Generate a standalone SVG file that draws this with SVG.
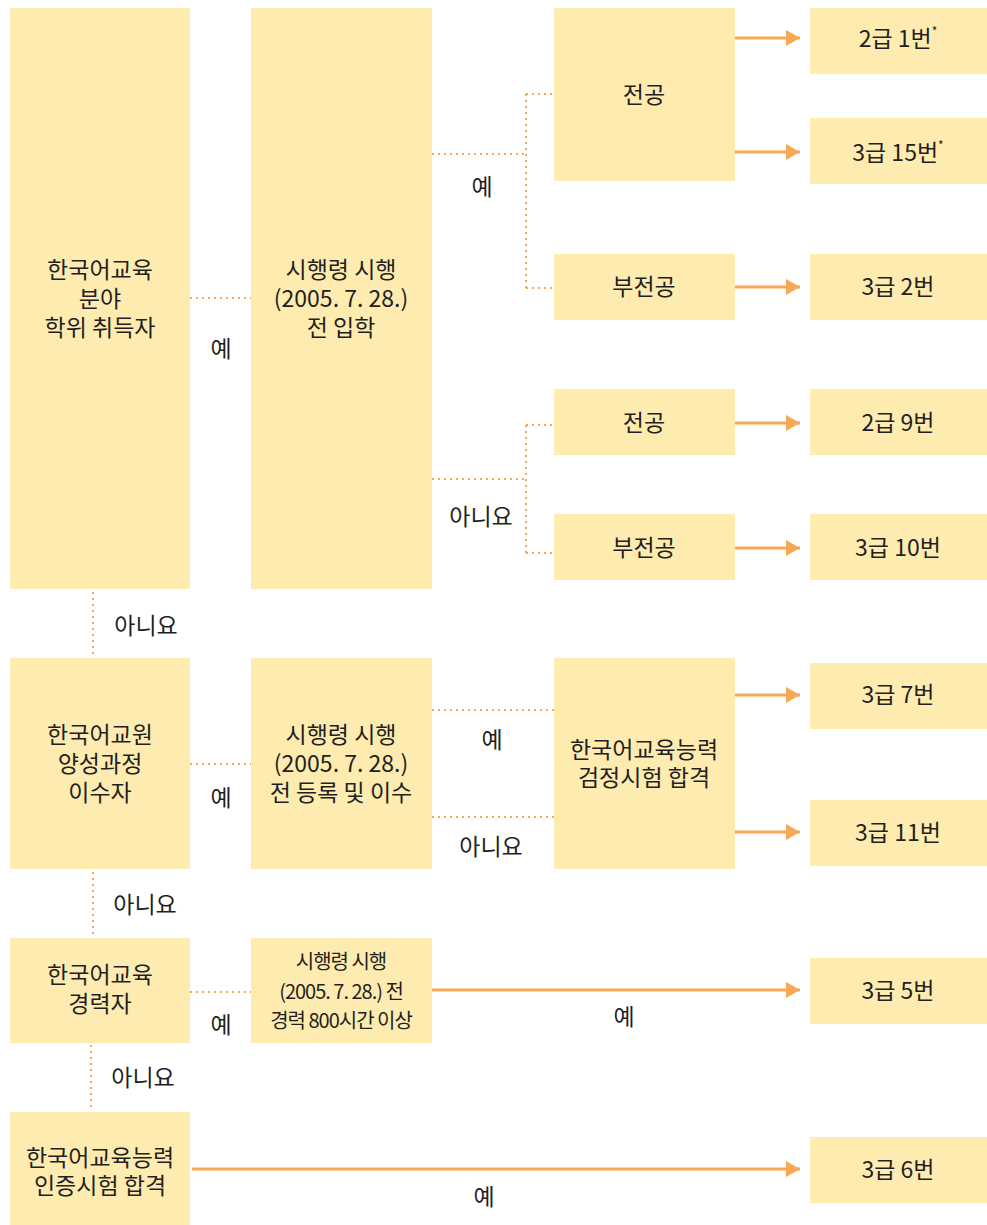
<svg xmlns="http://www.w3.org/2000/svg" width="987" height="1225" viewBox="0 0 987 1225">
<style>
.b{fill:#FEEBB0}
text{font-family:"Noto Sans CJK KR","Noto Sans",sans-serif;font-size:23px;fill:#231F20;text-anchor:middle}
.s{font-size:20px;letter-spacing:-1px}
.d{fill:none;stroke:#F8A855;stroke-width:2;stroke-dasharray:2 4}
.a{fill:none;stroke:#F8A855;stroke-width:3}
.sup{font-size:12px}
</style>
<defs>
<marker id="ar" markerUnits="userSpaceOnUse" markerWidth="14" markerHeight="16" refX="14" refY="8" orient="auto">
<path d="M0,0 L14,8 L0,16 Z" fill="#F8A855"/>
</marker>
</defs>
<g id="connectors">
<path class="d" d="M190,298 H251"/>
<path class="d" d="M432,154 H526 M526,94 V288 M526,94 H554 M526,288 H554"/>
<path class="d" d="M432,479 H526 M526,425 V553 M526,425 H554 M526,553 H554"/>
<path class="d" d="M93,592 V656"/>
<path class="d" d="M190,764 H251"/>
<path class="d" d="M432,710 H554 M432,817 H554"/>
<path class="d" d="M93,872 V935"/>
<path class="d" d="M190,992 H251"/>
<path class="d" d="M91,1045 V1110"/>
<path class="a" marker-end="url(#ar)" d="M735,38 H800"/>
<path class="a" marker-end="url(#ar)" d="M735,152 H800"/>
<path class="a" marker-end="url(#ar)" d="M735,287 H800"/>
<path class="a" marker-end="url(#ar)" d="M735,423 H800"/>
<path class="a" marker-end="url(#ar)" d="M735,548 H800"/>
<path class="a" marker-end="url(#ar)" d="M735,695 H800"/>
<path class="a" marker-end="url(#ar)" d="M735,832 H800"/>
<path class="a" marker-end="url(#ar)" d="M432,990 H800"/>
<path class="a" marker-end="url(#ar)" d="M192,1169 H800"/>
<text x="482" y="195">예</text>
<text x="481" y="525">아니요</text>
<text x="221" y="357">예</text>
<text x="146" y="634">아니요</text>
<text x="221" y="806">예</text>
<text x="492" y="748">예</text>
<text x="491" y="855">아니요</text>
<text x="145" y="913">아니요</text>
<text x="221" y="1033">예</text>
<text x="624" y="1025">예</text>
<text x="143" y="1086">아니요</text>
<text x="484" y="1205">예</text>
</g>
<g id="n1"><rect class="b" x="10" y="8" width="180" height="581"/><text x="100" y="278">한국어교육</text><text x="100" y="307">분야</text><text x="100" y="336">학위 취득자</text></g>
<g id="n2"><rect class="b" x="251" y="8" width="181" height="581"/><text x="341" y="278">시행령 시행</text><text x="341" y="307">(2005. 7. 28.)</text><text x="341" y="336">전 입학</text></g>
<g id="n3"><rect class="b" x="554" y="8" width="181" height="173"/><text x="644" y="103">전공</text></g>
<g id="n4"><rect class="b" x="554" y="254" width="181" height="66"/><text x="644" y="295">부전공</text></g>
<g id="n5"><rect class="b" x="554" y="389" width="181" height="66"/><text x="644" y="431">전공</text></g>
<g id="n6"><rect class="b" x="554" y="514" width="181" height="66"/><text x="644" y="556">부전공</text></g>
<g id="r1"><rect class="b" x="810" y="8" width="177" height="66"/><text x="898" y="47">2급 1번<tspan class="sup" dy="-11">*</tspan></text></g>
<g id="r2"><rect class="b" x="810" y="118" width="177" height="66"/><text x="898" y="161">3급 15번<tspan class="sup" dy="-11">*</tspan></text></g>
<g id="r3"><rect class="b" x="810" y="254" width="177" height="66"/><text x="898" y="295">3급 2번</text></g>
<g id="r4"><rect class="b" x="810" y="389" width="177" height="66"/><text x="898" y="431">2급 9번</text></g>
<g id="r5"><rect class="b" x="810" y="514" width="177" height="66"/><text x="898" y="556">3급 10번</text></g>
<g id="n7"><rect class="b" x="10" y="658" width="180" height="211"/><text x="100" y="743">한국어교원</text><text x="100" y="772">양성과정</text><text x="100" y="801">이수자</text></g>
<g id="n8"><rect class="b" x="251" y="658" width="181" height="211"/><text x="341" y="743">시행령 시행</text><text x="341" y="772">(2005. 7. 28.)</text><text x="341" y="801">전 등록 및 이수</text></g>
<g id="n9"><rect class="b" x="554" y="658" width="181" height="211"/><text x="644" y="758">한국어교육능력</text><text x="644" y="786">검정시험 합격</text></g>
<g id="r6"><rect class="b" x="810" y="663" width="177" height="66"/><text x="898" y="703">3급 7번</text></g>
<g id="r7"><rect class="b" x="810" y="800" width="177" height="66"/><text x="898" y="841">3급 11번</text></g>
<g id="n10"><rect class="b" x="10" y="938" width="180" height="105"/><text x="100" y="983">한국어교육</text><text x="100" y="1012">경력자</text></g>
<g id="n11"><rect class="b" x="251" y="938" width="181" height="105"/><text class="s" x="341" y="969">시행령 시행</text><text class="s" x="341" y="999">(2005. 7. 28.) 전</text><text class="s" x="341" y="1028">경력 800시간 이상</text></g>
<g id="r8"><rect class="b" x="810" y="958" width="177" height="66"/><text x="898" y="999">3급 5번</text></g>
<g id="n12"><rect class="b" x="10" y="1112" width="180" height="113"/><text x="100" y="1166">한국어교육능력</text><text x="100" y="1194">인증시험 합격</text></g>
<g id="r9"><rect class="b" x="810" y="1137" width="177" height="66"/><text x="898" y="1178">3급 6번</text></g>
</svg>
